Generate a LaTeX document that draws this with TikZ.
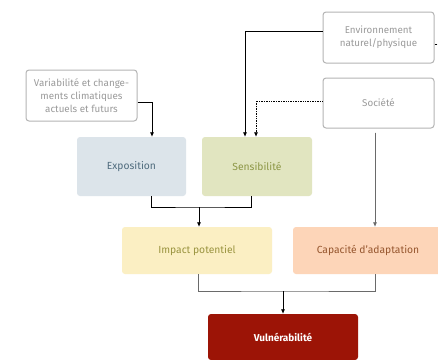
\documentclass[tikz,border=0pt]{standalone}
\usepackage{fontspec}
\setmainfont{Fira Sans}
\usetikzlibrary{arrows.meta}
\definecolor{gbord}{HTML}{B4B4B4}
\definecolor{gtext}{HTML}{9A9A9A}
\definecolor{expofill}{HTML}{DCE4EA}
\definecolor{expotext}{HTML}{4F6B7D}
\definecolor{sensfill}{HTML}{E1E5C0}
\definecolor{senstext}{HTML}{8C9645}
\definecolor{impfill}{HTML}{FBEFC3}
\definecolor{imptext}{HTML}{9A9440}
\definecolor{capfill}{HTML}{FDD5B8}
\definecolor{captext}{HTML}{96562E}
\definecolor{vulfill}{HTML}{9C1406}
\definecolor{lgray}{HTML}{6A6A6A}
\begin{document}
\begin{tikzpicture}[x=1pt,y=-1pt,
  graybox/.style={draw=gbord,line width=1pt,rounded corners=3pt,text=gtext,align=center,font=\fontsize{9.8}{13}\selectfont,inner sep=0pt},
  colbox/.style={rounded corners=3pt,inner sep=0pt,font=\fontsize{10.3}{12}\selectfont},
  conn/.style={line width=0.7pt,-{Latex[length=4.5pt,width=4pt]}},
  lconn/.style={line width=0.8pt,draw=lgray}]
\useasboundingbox (0,0) rectangle (438,359);
\fill[white] (0,0) rectangle (438,359);
\node[graybox,minimum width=111pt,minimum height=51pt] (env) at (378.5,37.5) {Environnement\\naturel/physique};
\node[graybox,minimum width=111pt,minimum height=50pt] (soc) at (378.5,103) {Société};
\node[graybox,minimum width=111pt,minimum height=51pt] (var) at (81.5,95.5) {Variabilité et change-\\ments climatiques\\actuels et futurs};
\node[colbox,fill=expofill,text=expotext,minimum width=109pt,minimum height=59pt] (expo) at (131.5,166.5) {Exposition};
\node[colbox,fill=sensfill,text=senstext,minimum width=110pt,minimum height=59pt] (sens) at (257,166.5) {Sensibilité};
\node[colbox,fill=impfill,text=imptext,minimum width=150pt,minimum height=47pt] (imp) at (197,250.5) {Impact potentiel};
\node[colbox,fill=capfill,text=captext,minimum width=150pt,minimum height=47pt] (cap) at (368,250.5) {Capacité d'adaptation};
\node[colbox,fill=vulfill,text=white,font=\fontsize{10}{12}\selectfont\bfseries,minimum width=150pt,minimum height=46pt] (vul) at (283,337) {Vulnérabilité};
% connectors top
\draw[conn] ([yshift=-6.5pt]var.east) -| ([xshift=20.5pt]expo.north);
\draw[conn] ([yshift=6.5pt]env.west) -| ([xshift=-12pt]sens.north);
\draw[conn,densely dotted] ([yshift=2pt]soc.west) -| ([xshift=-1pt]sens.north);
\draw[densely dotted,line width=0.6pt] (env.east) ++(0,7) -- ++(4,0);
\draw[conn,draw=lgray,fill=lgray] ([xshift=-3.5pt,yshift=-4pt]soc.south) -- ([xshift=7pt]cap.north);
% middle join
\coordinate (j1) at (199,207);
\draw[line width=0.7pt] ([xshift=19.5pt]expo.south) |- (j1) -| ([xshift=-6pt]sens.south);
\draw[conn] (j1) -- (imp.north -| j1);
% bottom join
\coordinate (j2) at (283,291);
\draw[lconn] ([xshift=1pt]imp.south) |- (j2) -| ([xshift=7pt]cap.south);
\draw[conn] (j2) -- (vul.north);
\end{tikzpicture}
\end{document}
